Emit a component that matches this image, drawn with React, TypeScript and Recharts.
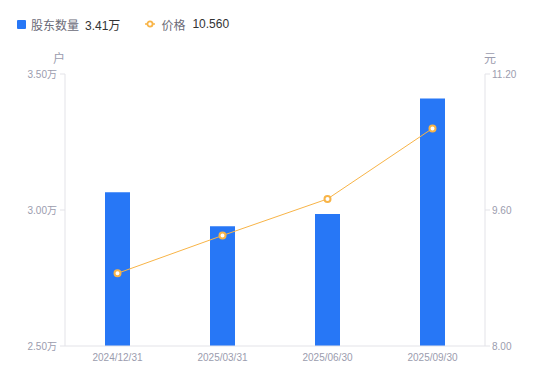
import { Bar, ComposedChart, Line, XAxis, YAxis } from "recharts";

const dates = ["2024/12/31", "2025/03/31", "2025/06/30", "2025/09/30"];
const holders = [3.065, 2.94, 2.985, 3.41]; // 万户
const prices = [8.855, 9.3, 9.73, 10.56];
const holderTicks = [2.5, 3.0, 3.5];
const priceTicks = [8.0, 9.6, 11.2];

const data = dates.map((date, i) => ({ date, holders: holders[i], price: prices[i] }));

const BLUE = "#2777F6";
const ORANGE = "#F8B447";
const AXIS = "#E3E3E8";
const TICK = { fontSize: 10, fill: "#9B9CAE" };

function TopLegend() {
    return (
        <div
            style={{
                position: "absolute",
                left: 17,
                top: 16,
                display: "flex",
                alignItems: "center",
                fontSize: 12,
                height: 16,
            }}
        >
            <span style={{ width: 9, height: 9, background: BLUE, borderRadius: 1, marginRight: 5 }} />
            <span style={{ color: "#6B6B78" }}>股东数量</span>
            <span style={{ color: "#333", marginLeft: 6 }}>3.41万</span>
            <svg width={10} height={8} style={{ marginLeft: 25, marginRight: 6 }}>
                <line x1={0} y1={4} x2={10} y2={4} stroke={ORANGE} strokeWidth={1.5} />
                <circle cx={5} cy={4} r={2.6} fill="#fff" stroke={ORANGE} strokeWidth={1.8} />
            </svg>
            <span style={{ color: "#6B6B78" }}>价格</span>
            <span style={{ color: "#333", marginLeft: 7 }}>10.560</span>
        </div>
    );
}

export default function App() {
    return (
        <div
            style={{
                position: "absolute",
                left: 0,
                top: 0,
                width: 550,
                height: 381,
                background: "#fff",
                fontFamily: "'Liberation Sans', Arial, 'Noto Sans CJK SC', sans-serif",
            }}
        >
            <ComposedChart width={550} height={381} data={data} margin={{ top: 74, right: 0, bottom: 0, left: 0 }}>
                <XAxis
                    dataKey="date"
                    height={35}
                    tickLine={false}
                    axisLine={{ stroke: AXIS }}
                    tick={TICK}
                    interval={0}
                />
                <YAxis
                    yAxisId="left"
                    orientation="left"
                    width={65}
                    domain={[2.5, 3.5]}
                    ticks={holderTicks}
                    tickFormatter={(v: number) => `${v.toFixed(2)}万`}
                    axisLine={{ stroke: AXIS }}
                    tickLine={{ stroke: AXIS }}
                    tickSize={5}
                    tickMargin={3}
                    tick={TICK}
                />
                <YAxis
                    yAxisId="right"
                    orientation="right"
                    width={65}
                    domain={[8, 11.2]}
                    ticks={priceTicks}
                    tickFormatter={(v: number) => v.toFixed(2)}
                    axisLine={{ stroke: AXIS }}
                    tickLine={{ stroke: AXIS }}
                    tickSize={5}
                    tickMargin={2}
                    tick={TICK}
                />
                <Bar yAxisId="left" dataKey="holders" name="股东数量" fill={BLUE} barSize={25} isAnimationActive={false} />
                <Line
                    yAxisId="right"
                    dataKey="price"
                    name="价格"
                    type="linear"
                    stroke={ORANGE}
                    strokeWidth={1}
                    dot={{ r: 3, fill: "#fff", stroke: ORANGE, strokeWidth: 2 }}
                    isAnimationActive={false}
                />
            </ComposedChart>
            <TopLegend />
            <div style={{ position: "absolute", left: 53, top: 49, fontSize: 12, color: "#9B9CAE" }}>户</div>
            <div style={{ position: "absolute", left: 484, top: 49, fontSize: 12, color: "#9B9CAE" }}>元</div>
        </div>
    );
}
